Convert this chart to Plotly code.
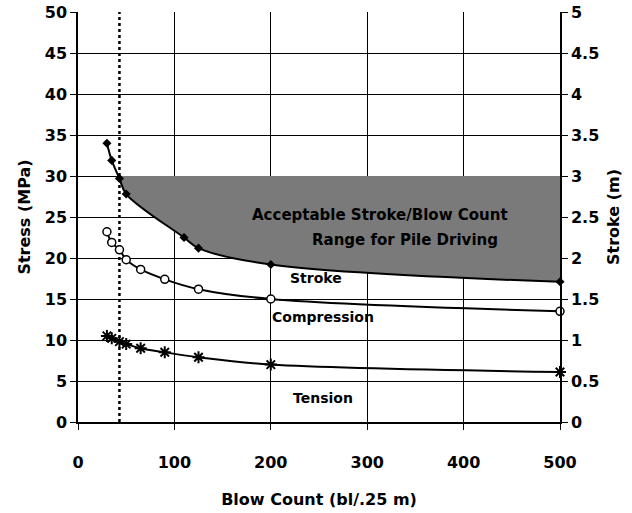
import plotly.graph_objects as go

# ---- data ----
blow_count_stress = [30, 35, 43, 50, 65, 90, 125, 200, 500]
compression_mpa = [23.2, 21.9, 21.0, 19.8, 18.6, 17.4, 16.2, 15.0, 13.5]
tension_mpa = [10.5, 10.2, 9.8, 9.5, 9.0, 8.5, 7.9, 7.0, 6.1]

blow_count_stroke = [30, 35, 43, 50, 110, 125, 200, 500]
stroke_m = [3.40, 3.19, 2.97, 2.78, 2.25, 2.12, 1.92, 1.71]

max_stroke_m = 3.0          # upper limit of acceptable range
min_blow_count = 43         # dotted limit line

x_ticks = [0, 100, 200, 300, 400, 500]
y_ticks = [0, 5, 10, 15, 20, 25, 30, 35, 40, 45, 50]
y2_ticks = [0, 0.5, 1, 1.5, 2, 2.5, 3, 3.5, 4, 4.5, 5]
y2_labels = ["0", "0.5", "1", "1.5", "2", "2.5", "3", "3.5", "4", "4.5", "5"]

FONT = "DejaVu Sans, Verdana, sans-serif"
BOLD = dict(family=FONT, color="black", weight="bold")

fig = go.Figure()

# shaded acceptable region: between stroke curve and max stroke
fx = [x for x in blow_count_stroke if x >= min_blow_count]
fy = [y for x, y in zip(blow_count_stroke, stroke_m) if x >= min_blow_count]
fig.add_trace(go.Scatter(x=fx, y=fy, yaxis="y2", mode="lines",
                         line=dict(width=0, shape="spline", smoothing=1.0),
                         hoverinfo="skip", showlegend=False))
fig.add_trace(go.Scatter(x=fx, y=[max_stroke_m] * len(fx), yaxis="y2", mode="lines",
                         line=dict(width=0), fill="tonexty",
                         fillcolor="rgb(122,122,122)",
                         hoverinfo="skip", showlegend=False))

# dotted vertical limit line
fig.add_trace(go.Scatter(x=[min_blow_count, min_blow_count], y=[0, 50], mode="lines",
                         line=dict(color="black", width=2.5, dash="dot"),
                         showlegend=False, hoverinfo="skip"))

# stroke
fig.add_trace(go.Scatter(x=blow_count_stroke, y=stroke_m, yaxis="y2", mode="lines+markers",
                         name="Stroke", cliponaxis=False,
                         line=dict(color="black", width=2, shape="spline", smoothing=1.0),
                         marker=dict(symbol="diamond", size=7, color="black"),
                         showlegend=False))
# compression
fig.add_trace(go.Scatter(x=blow_count_stress, y=compression_mpa, mode="lines+markers",
                         name="Compression", cliponaxis=False,
                         line=dict(color="black", width=2, shape="spline", smoothing=1.0),
                         marker=dict(symbol="circle", size=8, color="white",
                                     line=dict(color="black", width=1.5)),
                         showlegend=False))
# tension
fig.add_trace(go.Scatter(x=blow_count_stress, y=tension_mpa, mode="lines+markers",
                         name="Tension", cliponaxis=False,
                         line=dict(color="black", width=2, shape="spline", smoothing=1.0),
                         marker=dict(symbol="asterisk-open", size=10,
                                     line=dict(color="black", width=2)),
                         showlegend=False))

ann_font = dict(family=FONT, size=14, color="black", weight="bold")
big_font = dict(family=FONT, size=15, color="black", weight="bold")
annotations = [
    dict(x=313, y=25.2, text="Acceptable Stroke/Blow Count", font=big_font),
    dict(x=339, y=22.2, text="Range for Pile Driving", font=big_font),
    dict(x=247, y=17.6, text="Stroke", font=ann_font),
    dict(x=254, y=12.8, text="Compression", font=ann_font),
    dict(x=254, y=2.9, text="Tension", font=ann_font),
]
for a in annotations:
    a.update(xref="x", yref="y", showarrow=False)

fig.update_layout(
    width=632, height=513,
    margin=dict(l=78, r=72, t=12, b=91),
    paper_bgcolor="white", plot_bgcolor="white",
    annotations=annotations,
    xaxis=dict(range=[0, 500], tickvals=x_ticks, showgrid=True, gridcolor="black",
               gridwidth=1.2, showline=True, linecolor="black", linewidth=1.5,
               ticks="outside", ticklen=6, tickcolor="black", automargin=False,
               tickfont=dict(size=16, **BOLD), ticklabelstandoff=19,
               title=dict(text="Blow Count (bl/.25 m)", font=dict(size=16, **BOLD), standoff=23),
               zeroline=False),
    yaxis=dict(range=[0, 50], tickvals=y_ticks, showgrid=True, gridcolor="black",
               gridwidth=1.2, showline=True, linecolor="black", linewidth=1.5,
               ticks="outside", ticklen=6, tickcolor="black", automargin=False,
               tickfont=dict(size=16, **BOLD),
               title=dict(text="Stress (MPa)", font=dict(size=16, **BOLD), standoff=10),
               zeroline=False),
    yaxis2=dict(range=[0, 5], tickvals=y2_ticks, ticktext=y2_labels, overlaying="y",
                side="right", showgrid=False, showline=True, linecolor="black",
                linewidth=1.5, ticks="outside", ticklen=6, tickcolor="black",
                automargin=False, tickfont=dict(size=16, **BOLD),
                title=dict(text="Stroke (m)", font=dict(size=16, **BOLD), standoff=10),
                zeroline=False),
)

fig.write_html("out.html", config={"displayModeBar": False},
               post_script="document.body.style.margin='0';document.body.style.overflow='hidden';")
